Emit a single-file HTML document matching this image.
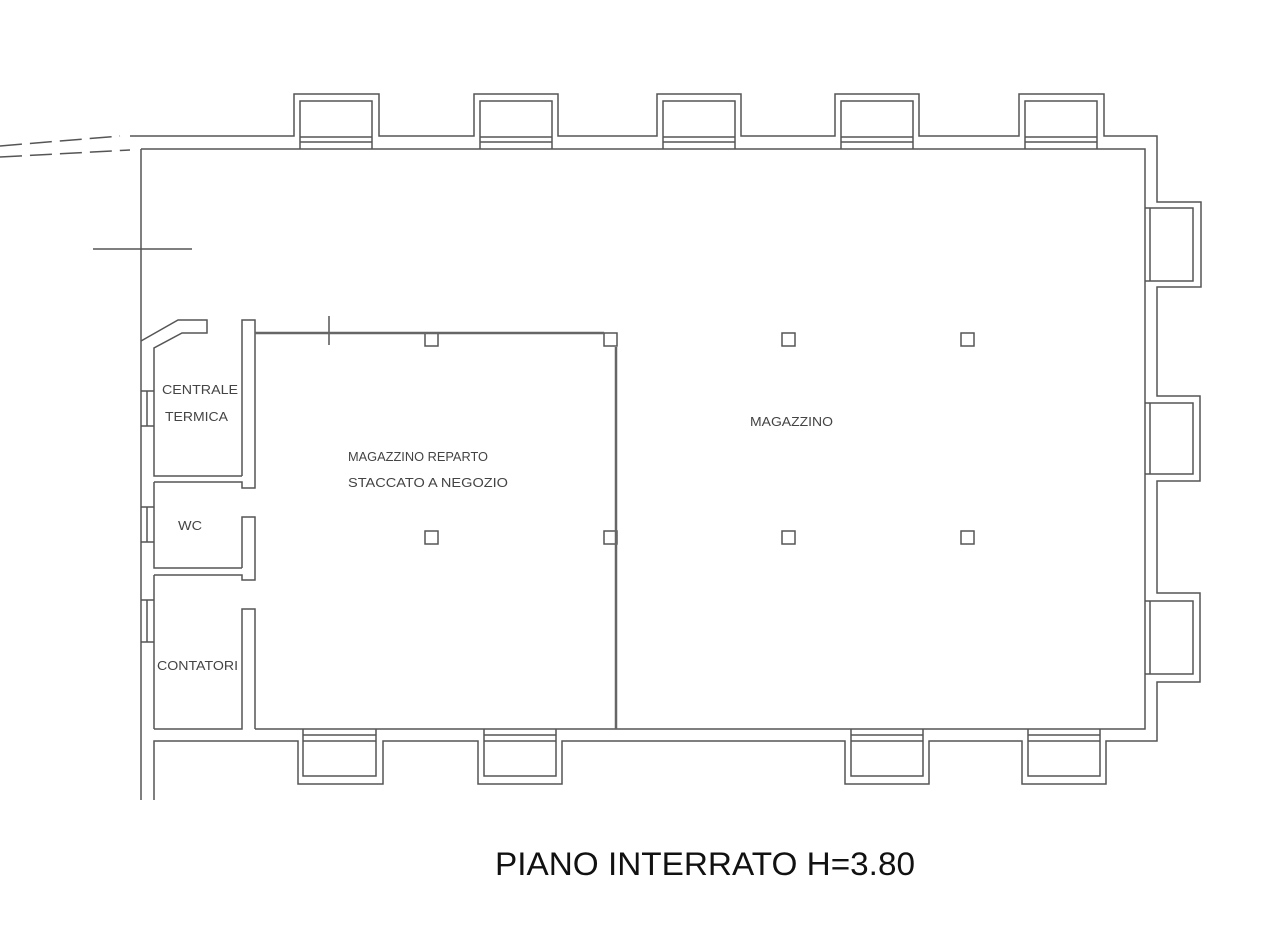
<!DOCTYPE html>
<html><head><meta charset="utf-8"><style>html,body{margin:0;padding:0;background:#fff}svg{display:block}</style></head>
<body>
<svg width="1280" height="926" viewBox="0 0 1280 926" xmlns="http://www.w3.org/2000/svg">
<g fill="none" stroke="#555" stroke-width="1.5">
<!-- dashed top-left -->
<path d="M0 146 L120 136 M0 157 L130 150" stroke-dasharray="22,8"/>
<!-- outer wall -->
<path d="M130 136 H294 V94 H379 V136 H474 V94 H558 V136 H657 V94 H741 V136 H835 V94 H919 V136 H1019 V94 H1104 V136 H1157 V202 H1201 V287 H1157 V396 H1200 V481 H1157 V593 H1200 V682 H1157 V741 H1106 V784 H1022 V741 H929 V784 H845 V741 H562 V784 H478 V741 H383 V784 H298 V741 H154 V800"/>
<!-- inner wall -->
<path d="M141 149 V800 M141 149 H1145 V729 H255 M255 729 V609 H242 V729 H154"/>
<!-- top well insides -->
<g>
<path d="M300 149 V101 H372 V149 M300 137 H372 M300 142 H372"/>
<path d="M480 149 V101 H552 V149 M480 137 H552 M480 142 H552"/>
<path d="M663 149 V101 H735 V149 M663 137 H735 M663 142 H735"/>
<path d="M841 149 V101 H913 V149 M841 137 H913 M841 142 H913"/>
<path d="M1025 149 V101 H1097 V149 M1025 137 H1097 M1025 142 H1097"/>
</g>
<!-- right wells -->
<path d="M1145 208 H1193 V281 H1145 M1150 208 V281"/>
<path d="M1145 403 H1193 V474 H1145 M1150 403 V474"/>
<path d="M1145 601 H1193 V674 H1145 M1150 601 V674"/>
<!-- bottom wells -->
<path d="M303 729 V776 H376 V729 M303 735 H376 M303 741 H376"/>
<path d="M484 729 V776 H556 V729 M484 735 H556 M484 741 H556"/>
<path d="M851 729 V776 H923 V729 M851 735 H923 M851 741 H923"/>
<path d="M1028 729 V776 H1100 V729 M1028 735 H1100 M1028 741 H1100"/>
<!-- left rooms -->
<path d="M141 341 L178 320 H207 V333 H182 L154 348 V476 H242 M154 482 H242 V488 H255 V320 H242 V476"/>
<path d="M154 482 V568 H242 M154 575 H242 V580 H255 V517 H242 V568"/>
<path d="M154 575 V729"/>
<!-- windows in left wall -->
<path d="M141 391 H154 M141 426 H154 M147 391 V426"/>
<path d="M141 507 H154 M141 542 H154 M147 507 V542"/>
<path d="M141 600 H154 M141 642 H154 M147 600 V642"/>
<!-- cross marks -->
<path d="M93 249 H192 M329 316 V345"/>
<!-- columns -->
<rect x="425" y="333" width="13" height="13"/>
<rect x="604" y="333" width="13" height="13"/>
<rect x="782" y="333" width="13" height="13"/>
<rect x="961" y="333" width="13" height="13"/>
<rect x="425" y="531" width="13" height="13"/>
<rect x="604" y="531" width="13" height="13"/>
<rect x="782" y="531" width="13" height="13"/>
<rect x="961" y="531" width="13" height="13"/>
</g>
<path d="M255 333 H604 M616 347 V729" stroke="#666" stroke-width="2.5" fill="none"/>
<g font-family="Liberation Sans, sans-serif" font-size="13" fill="#444">
<text x="162" y="394" textLength="76" lengthAdjust="spacingAndGlyphs">CENTRALE</text>
<text x="165" y="421" textLength="63" lengthAdjust="spacingAndGlyphs">TERMICA</text>
<text x="178" y="530" textLength="24" lengthAdjust="spacingAndGlyphs">WC</text>
<text x="157" y="670" textLength="81" lengthAdjust="spacingAndGlyphs">CONTATORI</text>
<text x="348" y="461" textLength="140" lengthAdjust="spacingAndGlyphs">MAGAZZINO REPARTO</text>
<text x="348" y="487" textLength="160" lengthAdjust="spacingAndGlyphs">STACCATO A NEGOZIO</text>
<text x="750" y="426" textLength="83" lengthAdjust="spacingAndGlyphs">MAGAZZINO</text>
</g>
<text x="495" y="875" font-family="Liberation Sans, sans-serif" font-size="32" fill="#111" textLength="420" lengthAdjust="spacingAndGlyphs">PIANO INTERRATO H=3.80</text>
</svg>
</body></html>
